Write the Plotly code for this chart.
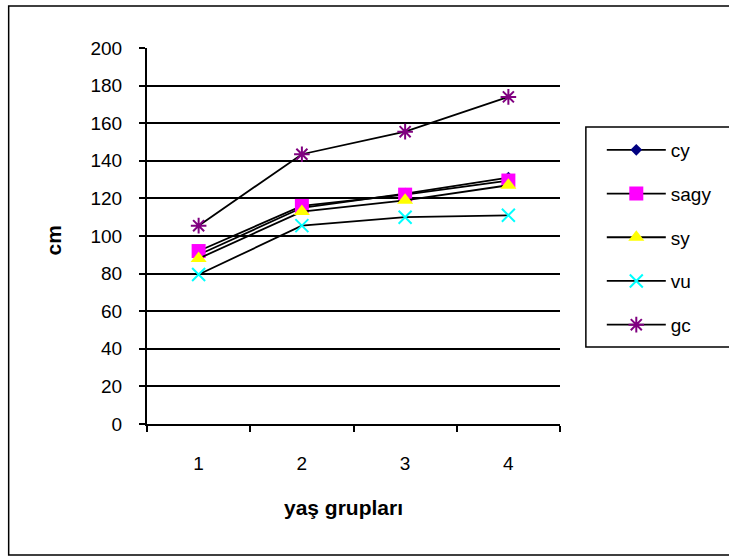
import plotly.graph_objects as go

categories = ["1", "2", "3", "4"]
cy = [90, 115, 122.5, 131]
sagy = [92, 116, 122, 129.5]
sy = [88, 113, 119, 127]
vu = [79.5, 105.5, 110, 111]
gc = [105.5, 143.5, 155.5, 174]
y_ticks = [0, 20, 40, 60, 80, 100, 120, 140, 160, 180, 200]

series = [
    ("cy", cy, "diamond", "#000080", 9, None),
    ("sagy", sagy, "square", "#FF00FF", 14, None),
    ("sy", sy, "triangle-up", "#FFFF00", 14, None),
    ("vu", vu, "x-thin-open", "#00FFFF", 13, 2),
    ("gc", gc, "asterisk-open", "#800080", 13, 2),
]

fig = go.Figure()
for name, vals, sym, col, size, lw in series:
    marker = dict(symbol=sym, color=col, size=size)
    if lw:
        marker["line"] = dict(color=col, width=lw)
    else:
        marker["line"] = dict(width=0)
    fig.add_trace(go.Scatter(
        x=categories, y=vals, name=name, mode="lines+markers",
        line=dict(color="black", width=1.8), marker=marker,
        legendgroup=name,
    ))

L, R, T, B = 147, 167, 48, 135
W, H = 729, 559
pw, ph = W - L - R, H - T - B

def px_x(px):
    return (px - L) / pw

def px_y(py):
    return (H - B - py) / ph

fam = "Liberation Sans, Arial, sans-serif"
font = dict(family=fam, size=19, color="black")
tfont = dict(family=fam, size=21, color="black")

fig.update_layout(
    width=W, height=H,
    margin=dict(l=L, r=R, t=T, b=B),
    paper_bgcolor="white", plot_bgcolor="white",
    font=font,
    showlegend=True,
    legend=dict(
        x=px_x(604), y=px_y(131), xanchor="left", yanchor="top",
        bgcolor="rgba(0,0,0,0)", borderwidth=0,
        font=font, itemwidth=59,
        tracegroupgap=16, traceorder="grouped",
    ),
    xaxis=dict(
        type="category", tickson="boundaries", ticks="outside", ticklen=6,
        tickwidth=1.5, tickcolor="black", showline=True, linecolor="black",
        linewidth=2, showgrid=False, zeroline=False, ticklabelstandoff=21,
        tickfont=font, range=[-0.5, 3.5],
    ),
    yaxis=dict(
        range=[0, 200], tickvals=y_ticks, ticks="outside", ticklen=6,
        tickwidth=1.5, tickcolor="black", showline=True, linecolor="black",
        linewidth=2, showgrid=True, gridcolor="black", gridwidth=2,
        zeroline=False, ticklabelstandoff=13, tickfont=font,
    ),
    shapes=[
        dict(type="rect", xref="paper", yref="paper",
             x0=px_x(8), x1=px_x(740), y0=px_y(555), y1=px_y(6),
             line=dict(color="black", width=1.5), layer="below"),
        dict(type="rect", xref="paper", yref="paper",
             x0=px_x(588), x1=px_x(740), y0=px_y(347), y1=px_y(127),
             line=dict(color="black", width=1.5), layer="below"),
    ],
    annotations=[
        dict(text="<b>cm</b>", xref="paper", yref="paper", x=px_x(53), y=px_y(240),
             showarrow=False, textangle=-90, font=tfont, xanchor="center", yanchor="middle"),
        dict(text="<b>yaş grupları</b>", xref="paper", yref="paper", x=px_x(344), y=px_y(507),
             showarrow=False, font=tfont, xanchor="center", yanchor="middle"),
    ],
)

fig.write_html("out.html")
